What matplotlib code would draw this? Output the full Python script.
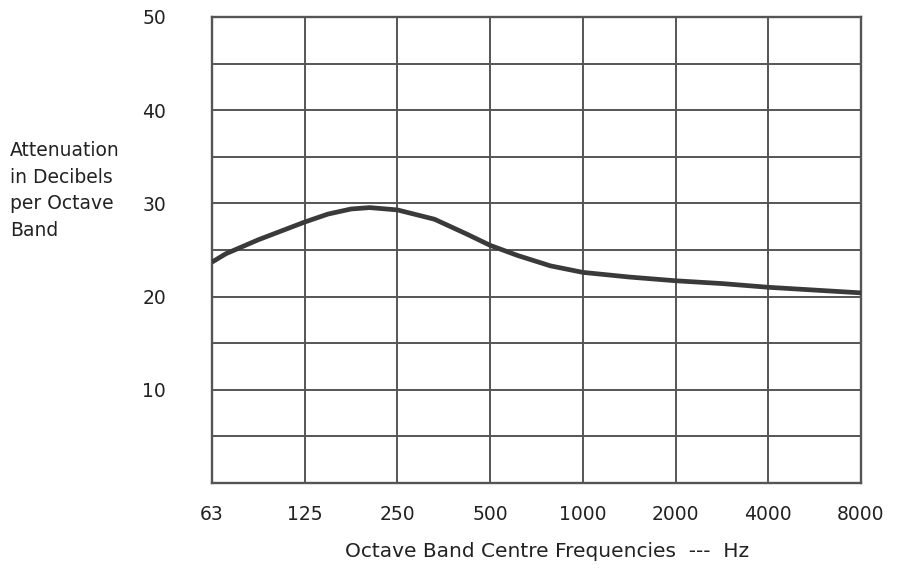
import matplotlib.pyplot as plt

plt.rcParams['font.family'] = ['DejaVu Sans']

# octave band centre frequencies (Hz) and attenuation
freq_labels = ["63", "125", "250", "500", "1000", "2000", "4000", "8000"]
# curve position in octaves above 63 Hz, with attenuation in dB
curve_pos = [0, 0.15, 0.5, 1, 1.25, 1.5, 1.7, 2, 2.4, 2.75, 3, 3.3, 3.65,
             4, 4.5, 5, 5.5, 6, 6.5, 7]
attenuation = [23.7, 24.6, 26.1, 28.0, 28.85, 29.4, 29.55, 29.3, 28.3, 26.7,
               25.5, 24.4, 23.3, 22.6, 22.1, 21.7, 21.4, 21.0, 20.7, 20.4]
y_ticks = [10, 20, 30, 40, 50]

grid_col = "#555555"
text_col = "#222222"

fig = plt.figure(figsize=(8.99, 5.70), dpi=100)
ax = fig.add_axes([0.2358, 0.1526, 0.7219, 0.8176])

# grid every 5 dB and every octave
for v in range(0, 55, 5):
    ax.axhline(v, color=grid_col, linewidth=1.4, zorder=1)
for i in range(len(freq_labels)):
    ax.axvline(i, color=grid_col, linewidth=1.4, zorder=1)

ax.plot(curve_pos, attenuation, color="#3a3a3a", linewidth=3.4,
        solid_capstyle="butt", solid_joinstyle="round", zorder=3)

ax.set_xlim(0, len(freq_labels) - 1)
ax.set_ylim(0, 50)
ax.set_xticks(range(len(freq_labels)))
ax.set_xticklabels(freq_labels)
ax.set_yticks(y_ticks)
ax.tick_params(length=0, labelsize=13.5, colors=text_col)
ax.tick_params(axis="y", pad=33)
ax.tick_params(axis="x", pad=16)
for s in ax.spines.values():
    s.set_color(grid_col)
    s.set_linewidth(1.7)

fig.text(0.011, 0.752, "Attenuation\nin Decibels\nper Octave\nBand",
         ha="left", va="top", fontsize=13.5, color=text_col, linespacing=1.5)
fig.text(0.609, 0.032, "Octave Band Centre Frequencies  ---  Hz",
         ha="center", va="center", fontsize=14.5, color=text_col)

fig.savefig("out.png", dpi=100, facecolor="white")
